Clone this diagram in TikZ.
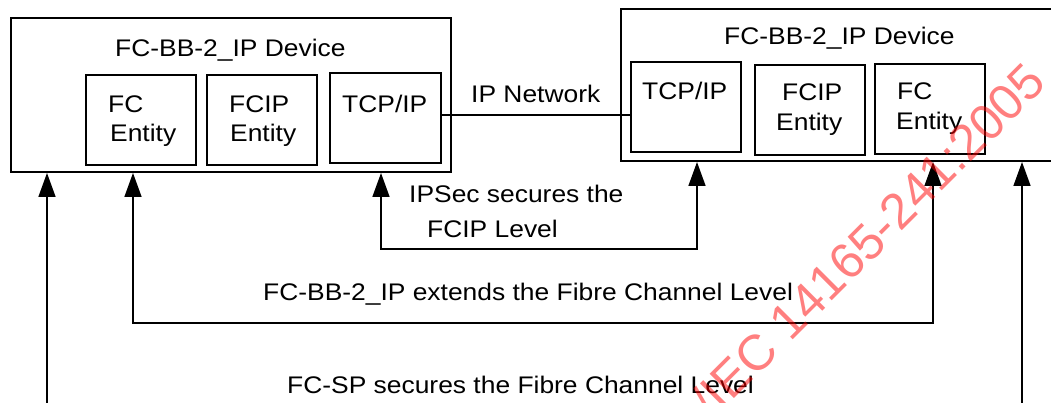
\documentclass[tikz,border=0pt]{standalone}
\usepackage{fontspec}
\setmainfont{Liberation Sans}[FakeStretch=1.1]
\newfontfamily\wmfont{Liberation Sans}
\usetikzlibrary{arrows.meta}
\begin{document}
\begin{tikzpicture}[x=1pt,y=-1pt,
  box/.style={draw, line width=2pt, anchor=north west, inner sep=0pt},
  lbl/.style={anchor=base west, inner sep=0pt, font=\fontsize{24}{29}\selectfont},
  conn/.style={line width=1.6pt},
  arr/.style={line width=1.6pt, -{Triangle[width=17pt,length=24pt]}},
  arrtwo/.style={line width=1.6pt, {Triangle[width=17pt,length=24pt]}-{Triangle[width=17pt,length=24pt]}}]
\useasboundingbox (0,0) rectangle (1051,403);
% left device
\node[box, minimum width=440pt, minimum height=154pt] (L) at (10,17) {};
\node[box, minimum width=110pt, minimum height=90pt] (LFC) at (85,74) {};
\node[box, minimum width=110pt, minimum height=90pt] (LFCIP) at (206,74) {};
\node[box, minimum width=111pt, minimum height=90pt] (LTCP) at (329,72) {};
\node[lbl] (Lt) at (115,57) {FC-BB-2\_IP Device};
\node[lbl] (LFCa) at (108,113) {FC};
\node[lbl] (LFCb) at (110,142) {Entity};
\node[lbl] (LFCIPa) at (229,113) {FCIP};
\node[lbl] (LFCIPb) at (230,142) {Entity};
\node[lbl] (LTCPa) at (342,113) {TCP/IP};
% right device
\node[box, minimum width=440pt, minimum height=152pt] (R) at (620,8) {};
\node[box, minimum width=110pt, minimum height=90pt] (RTCP) at (630,61) {};
\node[box, minimum width=110pt, minimum height=90pt] (RFCIP) at (754,64) {};
\node[box, minimum width=110pt, minimum height=90pt] (RFC) at (874,63) {};
\node[lbl] (Rt) at (724,45) {FC-BB-2\_IP Device};
\node[lbl] (RTCPa) at (642,100) {TCP/IP};
\node[lbl] (RFCIPa) at (782,101) {FCIP};
\node[lbl] (RFCIPb) at (776,131) {Entity};
\node[lbl] (RFCa) at (897,100) {FC};
\node[lbl] (RFCb) at (896,130) {Entity};
% network link
\coordinate (nety) at (0,115);
\draw[conn] (LTCP.east |- nety) -- (RTCP.west |- nety);
\node[lbl] (net) at (471,103) {IP Network};
% IPSec level
\coordinate (p1) at (381,249);
\coordinate (p2) at (697,249);
\draw[arrtwo] (L.south -| p1) -- (p1) -- (p2) -- (R.south -| p2);
\node[lbl] (ips1) at (409,203) {IPSec secures the};
\node[lbl] (ips2) at (427,237) {FCIP Level};
% FC-BB-2_IP level
\coordinate (q1) at (133,323);
\coordinate (q2) at (933,323);
\draw[arrtwo] (L.south -| q1) -- (q1) -- (q2) -- (R.south -| q2);
\node[lbl] (ext) at (263,300) {FC-BB-2\_IP extends the Fibre Channel Level};
% FC-SP level
\coordinate (s1) at (47,410);
\coordinate (s2) at (1022,410);
\draw[arr] (s1) -- (L.south -| s1);
\draw[arr] (s2) -- (R.south -| s2);
\node[lbl] (sp) at (287,393) {FC-SP secures the Fibre Channel Level};
% watermark
\node[rotate=45, text=red, text opacity=0.5, inner sep=0pt, font=\wmfont\fontsize{50}{50}\selectfont] (wm) at (837,271) {ISO/IEC 14165-241:2005};
\end{tikzpicture}
\end{document}
